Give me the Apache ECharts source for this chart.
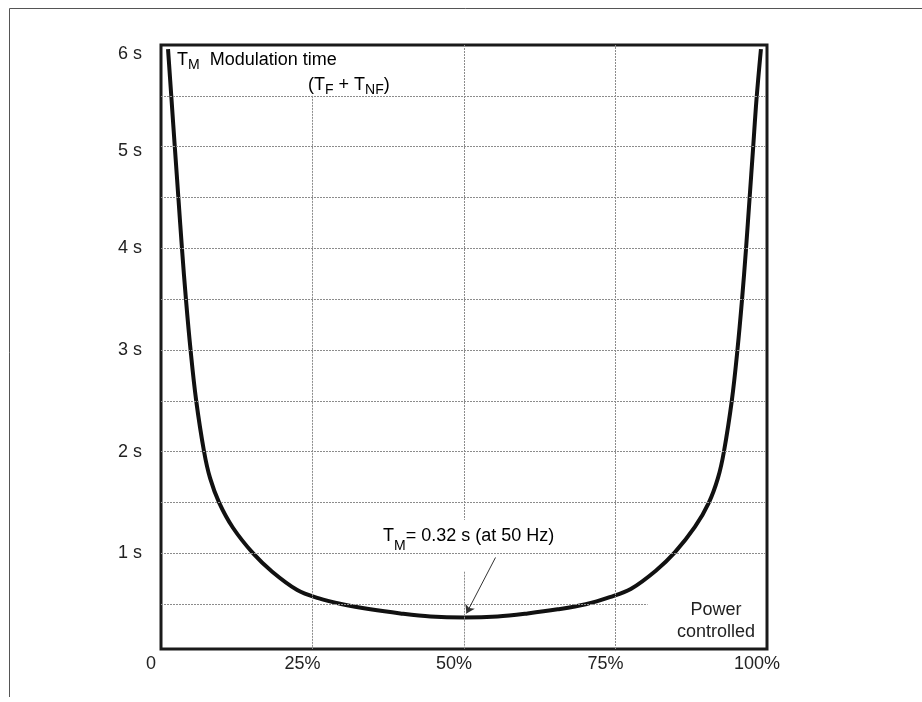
<!DOCTYPE html>
<html>
<head>
<meta charset="utf-8">
<script src="https://cdn.jsdelivr.net/npm/echarts@6/dist/echarts.min.js"></script>
<style>
  html, body { margin: 0; padding: 0; background: #fff; }
  #chart { width: 922px; height: 702px; }
</style>
</head>
<body>
<div id="chart"></div>
<script>
// power controlled (%) and modulation time (s)
const powerPct = [1.16, 1.74, 2.31, 2.89, 3.47, 4.13, 4.88, 5.79, 7.11, 8.1, 9.59, 11.9, 15.21, 18.35, 22.48, 25.95, 29.92, 34.55, 39.5, 44.46, 50,
  55.54, 60.5, 65.45, 70.08, 74.05, 77.52, 81.65, 84.79, 88.1, 90.41, 91.9, 92.89, 94.21, 95.12, 95.87, 96.53, 97.11, 97.69, 98.26, 99.0];
const modTime = [5.96, 5.46, 4.97, 4.48, 3.99, 3.49, 3.0, 2.51, 2.0, 1.74, 1.5, 1.25, 1.0, 0.82, 0.64, 0.56, 0.5, 0.45, 0.41, 0.38, 0.37,
  0.38, 0.41, 0.45, 0.5, 0.57, 0.65, 0.83, 1.01, 1.26, 1.5, 1.74, 2.0, 2.51, 3.0, 3.49, 3.99, 4.48, 4.97, 5.46, 5.96];

const xTicks = [0, 25, 50, 75, 100];
const xTickLabels = ['0', '25%', '50%', '75%', '100%'];
const yTicks = [1, 2, 3, 4, 5, 6];
const yGridFull = [1, 1.5, 2, 2.5, 3, 3.5, 4, 4.5, 5, 5.5];
const xGridFull = [75];

var chart = echarts.init(document.getElementById('chart'));

var FONT = 'Liberation Sans, Arial, sans-serif';
var gridStyle = { color: '#8c8c8c', width: 1, type: [2, 1] };
var gridLines = [];
yGridFull.forEach(function (v) { gridLines.push({ yAxis: v }); });
xGridFull.forEach(function (v) { gridLines.push({ xAxis: v }); });
// 25% line starts below the title, 50% line is broken round the annotation, 0.5 s line stops short
gridLines.push([{ coord: [25, 5.5] }, { coord: [25, 0.06] }]);
gridLines.push([{ coord: [50, 6] }, { coord: [50, 1.33] }]);
gridLines.push([{ coord: [50, 0.82] }, { coord: [50, 0.06] }]);
gridLines.push([{ coord: [0, 0.5] }, { coord: [80.3, 0.5] }]);

var txt = { fontFamily: FONT, fontSize: 18, fill: '#222' };
var rich = {
  n: { fontFamily: FONT, fontSize: 18, color: '#222' },
  s: { fontFamily: FONT, fontSize: 14, color: '#222', padding: [10, 0, 0, 0] }
};
var richLow = {
  n: { fontFamily: FONT, fontSize: 18, color: '#222' },
  s: { fontFamily: FONT, fontSize: 14, color: '#222', padding: [20, 0, 0, 0] }
};

var option = {
  animation: false,
  backgroundColor: '#fff',
  grid: {
    left: 161, right: 155, top: 45, bottom: 53,
    show: true, borderColor: '#1a1a1a', borderWidth: 3, backgroundColor: 'transparent'
  },
  xAxis: {
    type: 'value', min: 0, max: 100, interval: 25,
    axisLine: { show: false }, axisTick: { show: false }, splitLine: { show: false },
    axisLabel: {
      margin: 6, fontSize: 18, color: '#222', fontFamily: FONT,
      padding: [0, 20, 0, 0],
      formatter: function (v) { var i = xTicks.indexOf(v); return i >= 0 ? xTickLabels[i] : ''; }
    }
  },
  yAxis: {
    type: 'value', min: 0.06, max: 6,
    axisLine: { show: false }, axisTick: { show: false }, splitLine: { show: false },
    axisLabel: {
      margin: 19, fontSize: 18, color: '#222', fontFamily: FONT,
      customValues: yTicks,
      rich: {
        t6: { fontSize: 18, color: '#222', fontFamily: FONT, padding: [18, 0, 0, 0] },
        t5: { fontSize: 18, color: '#222', fontFamily: FONT, padding: [8, 0, 0, 0] }
      },
      formatter: function (v) {
        if (yTicks.indexOf(v) < 0) return '';
        if (v === 6) return '{t6|6 s}';
        if (v === 5) return '{t5|5 s}';
        return v + ' s';
      }
    }
  },
  series: [
    {
      type: 'line', data: [], silent: true,
      markLine: { silent: true, symbol: 'none', label: { show: false }, lineStyle: gridStyle, data: gridLines }
    },
    {
      type: 'line', data: [], silent: true,
      markLine: {
        silent: true, symbol: ['none', 'arrow'], symbolSize: 8, label: { show: false },
        lineStyle: { color: '#333', width: 1, type: 'solid' },
        data: [[{ coord: [55.2, 0.96] }, { coord: [50.4, 0.41] }]]
      }
    },
    {
      type: 'line', name: 'TM',
      data: powerPct.map(function (p, i) { return [p, modTime[i]]; }),
      smooth: 0.35, showSymbol: false, clip: true,
      lineStyle: { color: '#111', width: 4 }
    }
  ],
  graphic: [
    { type: 'polyline', shape: { points: [[922, 8.5], [9.5, 8.5], [9.5, 697]] }, style: { stroke: '#555', lineWidth: 1, fill: null } },
    { type: 'text', left: 177, top: 51, style: { rich: rich, text: '{n|T}{s|M}{n|  Modulation time}' } },
    { type: 'text', left: 308, top: 76, style: { rich: rich, text: '{n|(T}{s|F}{n| + T}{s|NF}{n|)}' } },
    { type: 'text', left: 383, top: 527, style: { rich: richLow, text: '{n|T}{s|M}{n|= 0.32 s (at 50 Hz)}' } },
    { type: 'text', x: 716, y: 610, style: Object.assign({ text: 'Power', align: 'center', verticalAlign: 'middle' }, txt) },
    { type: 'text', x: 716, y: 632, style: Object.assign({ text: 'controlled', align: 'center', verticalAlign: 'middle' }, txt) }
  ]
};
chart.setOption(option);
</script>
</body>
</html>
